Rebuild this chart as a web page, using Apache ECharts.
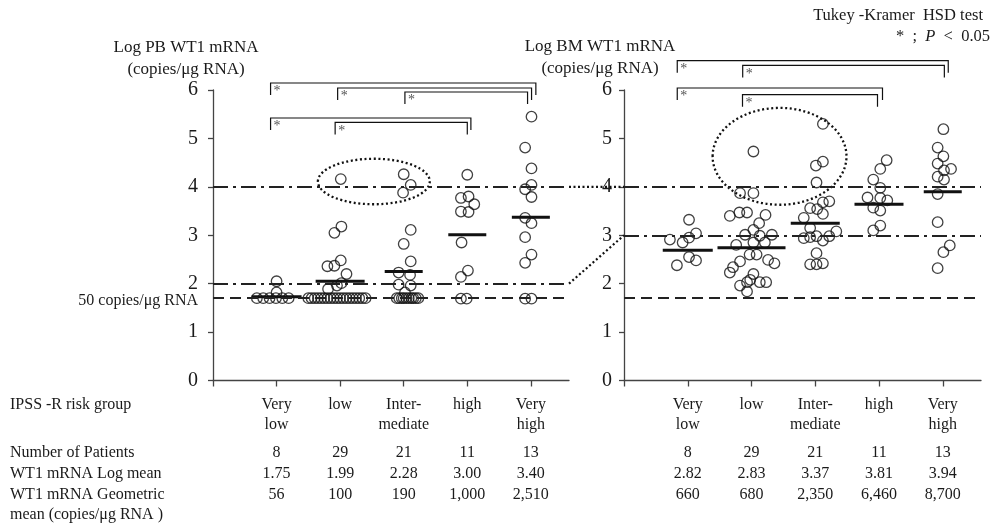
<!DOCTYPE html>
<html>
<head>
<meta charset="utf-8">
<script src="https://cdn.jsdelivr.net/npm/echarts@6/dist/echarts.min.js"></script>
<style>
html,body{margin:0;padding:0;background:#fff;}
#chart{width:994px;height:528px;}
</style>
</head>
<body>
<div id="chart"></div>
<script>
// ---------------- DATA ----------------
const categories = ['Very\nlow', 'low', 'Inter-\nmediate', 'high', 'Very\nhigh'];
const nPatients = ['8', '29', '21', '11', '13'];
const pbLogMean = ['1.75', '1.99', '2.28', '3.00', '3.40'];
const pbGeoMean = ['56', '100', '190', '1,000', '2,510'];
const bmLogMean = ['2.82', '2.83', '3.37', '3.81', '3.94'];
const bmGeoMean = ['660', '680', '2,350', '6,460', '8,700'];
// mean bars as drawn
const pbMeanBar = [1.73, 2.05, 2.25, 3.01, 3.37];
const bmMeanBar = [2.69, 2.74, 3.25, 3.64, 3.90];
// reference levels
const detectionLimit = 1.699; // log10(50 copies)
const pbThresholds = [2, 4];
const bmThresholds = [3, 4];
// significant pairs (Tukey-Kramer)
const pbSigPairs = [[1, 5], [2, 5], [3, 5], [1, 4], [2, 4]];
const bmSigPairs = [[1, 5], [2, 5], [1, 4], [2, 4]];
// dotted ellipses [cx, cy, rx, ry] in axis units
const pbEllipse = [2.53, 4.11, 0.88, 0.47];
const bmEllipse = [2.44, 4.63, 1.05, 1.0];
// connectors between panels [PB level, BM level]
const connectors = [[4, 4], [2, 3]];

// PB points [x (group + jitter), log value]
const pbVeryLow = [[0.69,1.70],[0.79,1.70],[0.89,1.70],[0.99,1.70],[1.09,1.70],[1.19,1.70],[1.00,1.82],[1.00,2.05]];
const pbLow = [[2.01,4.16],[2.02,3.18],[1.91,3.05],[2.01,2.48],[1.80,2.36],[1.91,2.37],[2.10,2.20],[1.81,1.89],[1.95,1.96],[2.02,2.01],
  [1.50,1.70],[1.55,1.70],[1.60,1.70],[1.65,1.70],[1.70,1.70],[1.75,1.70],[1.80,1.70],[1.85,1.70],[1.90,1.70],[1.95,1.70],
  [2.00,1.70],[2.05,1.70],[2.10,1.70],[2.15,1.70],[2.20,1.70],[2.25,1.70],[2.30,1.70],[2.35,1.70],[2.40,1.70]];
const pbInter = [[3.00,4.26],[3.11,4.04],[2.99,3.88],[3.11,3.11],[3.00,2.82],[3.11,2.46],[2.92,2.23],[3.10,2.18],[2.92,1.98],[3.11,1.96],[3.02,1.82],
  [2.89,1.70],[2.93,1.70],[2.97,1.70],[3.00,1.70],[3.04,1.70],[3.08,1.70],[3.12,1.70],[3.15,1.70],[3.19,1.70],[3.23,1.70]];
const pbHigh = [[4.00,4.25],[3.90,3.77],[4.02,3.80],[4.11,3.64],[3.90,3.49],[4.02,3.48],[3.91,2.85],[4.01,2.27],[3.90,2.14],[3.90,1.69],[3.99,1.69]];
const pbVeryHigh = [[5.01,5.45],[4.91,4.81],[5.01,4.38],[5.01,4.04],[4.91,3.95],[5.01,3.79],[4.91,3.36],[5.01,3.25],[4.91,2.96],[5.01,2.60],[4.91,2.43],[4.91,1.69],[5.01,1.69]];

// BM points
const bmVeryLow = [[1.02,3.32],[1.13,3.04],[1.02,2.95],[0.72,2.91],[0.92,2.85],[1.02,2.55],[1.13,2.48],[0.83,2.38]];
const bmLow = [[2.03,4.73],[1.82,3.87],[2.03,3.87],[1.66,3.40],[1.81,3.47],[1.93,3.47],[2.22,3.42],[2.12,3.25],[2.03,3.11],[1.90,3.01],
  [2.32,3.01],[2.13,2.99],[2.03,2.85],[2.21,2.85],[1.76,2.80],[1.97,2.60],[2.08,2.60],[1.82,2.46],[2.26,2.49],[2.36,2.42],
  [1.71,2.34],[1.66,2.23],[2.03,2.20],[1.98,2.08],[1.93,2.03],[2.13,2.03],[2.23,2.03],[1.82,1.96],[1.93,1.84]];
const bmInter = [[3.12,5.30],[3.12,4.52],[3.01,4.44],[3.02,4.09],[3.22,3.70],[3.12,3.68],[2.92,3.56],[3.03,3.54],[3.12,3.44],[2.82,3.36],
  [2.92,3.15],[3.33,3.08],[3.02,2.98],[3.22,2.98],[2.92,2.96],[2.82,2.94],[3.12,2.89],[3.02,2.63],[3.12,2.42],[3.02,2.40],[2.92,2.40]];
const bmHigh = [[4.12,4.55],[4.02,4.37],[3.91,4.15],[4.02,3.98],[3.82,3.78],[4.02,3.77],[4.13,3.72],[3.91,3.57],[4.02,3.51],[4.02,3.20],[3.91,3.10]];
const bmVeryHigh = [[5.01,5.19],[4.92,4.81],[5.01,4.63],[4.92,4.48],[5.02,4.34],[5.13,4.37],[4.92,4.21],[5.02,4.15],[4.92,3.85],[4.92,3.27],[5.11,2.79],[5.01,2.65],[4.92,2.32]];

// ---------------- STYLE / LAYOUT ----------------
const SERIF = "'Liberation Serif', 'Times New Roman', serif";
const INK = '#1a1a1a';
const AX = '#444';
const pbBarWidth = [50, 49, 38, 38, 38];
const bmBarWidth = [50, 68, 49, 49, 38];
const pbBracketLayout = [{dy:-7, dl:-6, dr:5}, {dy:-2, dl:-2.5, dr:0.7}, {dy:2, dl:1.2, dr:-3.3}, {dy:28, dl:-6, dr:3.6}, {dy:32.4, dl:-5, dr:0}];
const bmBracketLayout = [{dy:-29.3, dl:-10.5, dr:5.5}, {dy:-24.6, dl:-8.8, dr:1.6}, {dy:-2, dl:-10.5, dr:3.5}, {dy:4.7, dl:-9, dr:-1.5}];
const DASHDOT = [15, 5, 3, 5];
const DASH = [11, 6];

const chart = echarts.init(document.getElementById('chart'), null, {renderer: 'canvas'});

function mainX(gi) {
  return {
    type: 'value', gridIndex: gi, min: 0, max: 5.6, interval: 1,
    axisLine: {show: true, onZero: false, lineStyle: {color: AX, width: 1.3}},
    axisTick: {show: true, length: 6, lineStyle: {color: AX, width: 1.3}, customValues: [0, 1, 2, 3, 4, 5]},
    splitLine: {show: false},
    axisLabel: {customValues: [1, 2, 3, 4, 5], formatter: v => categories[v - 1] || '',
      fontSize: 16, lineHeight: 20, margin: 14.5, color: INK, fontFamily: SERIF}
  };
}
function rowX(gi, arr, offset) {
  return {
    type: 'value', gridIndex: gi, min: 0, max: 5.6, interval: 1, position: 'bottom', offset: offset,
    axisLine: {show: false}, axisTick: {show: false}, splitLine: {show: false},
    axisLabel: {customValues: [1, 2, 3, 4, 5], formatter: v => arr[v - 1] || '',
      fontSize: 16, lineHeight: 20, margin: 7.5, color: INK, fontFamily: SERIF}
  };
}
function yAx(gi, margin) {
  return {
    type: 'value', gridIndex: gi, min: 0, max: 6, interval: 1,
    axisLine: {show: true, onZero: false, lineStyle: {color: AX, width: 1.3}},
    axisTick: {show: true, length: 5, lineStyle: {color: AX, width: 1.3}},
    splitLine: {show: false},
    axisLabel: {fontSize: 20, margin: margin, color: INK, fontFamily: SERIF}
  };
}
function scatter(gi, groups, thresholds) {
  const data = [].concat(...groups);
  const ml = [{yAxis: detectionLimit, lineStyle: {type: DASH}}]
    .concat(thresholds.map(t => ({yAxis: t, lineStyle: {type: DASHDOT}})));
  return {
    type: 'scatter', xAxisIndex: gi, yAxisIndex: gi, data: data,
    symbol: 'circle', symbolSize: 10.5, z: 3,
    itemStyle: {color: 'rgba(0,0,0,0)', borderColor: '#111', borderWidth: 1.3},
    markLine: {silent: true, symbol: ['none', 'none'], label: {show: false}, animation: false,
      lineStyle: {color: '#222', width: 2}, data: ml}
  };
}
function meanBars(gi, means, widths) {
  return {
    type: 'custom', xAxisIndex: gi, yAxisIndex: gi, z: 4,
    data: means.map((m, i) => [i + 1, m]),
    renderItem: (params, api) => {
      const c = api.coord([api.value(0), api.value(1)]);
      const w = widths[params.dataIndex];
      return {type: 'line', shape: {x1: c[0] - w / 2, y1: c[1], x2: c[0] + w / 2, y2: c[1]},
        style: {stroke: '#111', lineWidth: 3}};
    }
  };
}
function brackets(gi, pairs, layout) {
  return {
    type: 'custom', xAxisIndex: gi, yAxisIndex: gi, clip: false, z: 5,
    data: pairs.map(p => [p[0], p[1]]),
    renderItem: (params, api) => {
      const s = layout[params.dataIndex];
      const a = api.coord([api.value(0), 6]);
      const b = api.coord([api.value(1), 6]);
      const y = a[1] + s.dy, xl = a[0] + s.dl, xr = b[0] + s.dr;
      return {type: 'group', children: [
        {type: 'polyline', shape: {points: [[xl, y + 12], [xl, y], [xr, y], [xr, y + 12]]},
          style: {stroke: '#111', lineWidth: 1.2, fill: null}},
        {type: 'text', x: xl + 3, y: y + 1.5,
          style: {text: '*', fill: '#555', font: '14px ' + SERIF, textAlign: 'left', textVerticalAlign: 'top', align: 'left', verticalAlign: 'top'}}
      ]};
    }
  };
}
function ellipse(gi, e) {
  return {
    type: 'custom', xAxisIndex: gi, yAxisIndex: gi, clip: false, z: 2,
    data: [e],
    renderItem: (params, api) => {
      const c = api.coord([api.value(0), api.value(1)]);
      const s = api.size([api.value(2), api.value(3)], [api.value(0), api.value(1)]);
      return {type: 'ellipse', shape: {cx: c[0], cy: c[1], rx: s[0], ry: s[1]},
        style: {fill: null, stroke: '#111', lineWidth: 2.3, lineDash: [2, 2.6]}};
    }
  };
}

const option = {
  animation: false,
  textStyle: {fontFamily: SERIF},
  grid: [
    {left: 213, top: 90, width: 356, height: 290.5},
    {left: 624, top: 90, width: 357, height: 290.5}
  ],
  xAxis: [
    mainX(0), mainX(1),
    rowX(0, nPatients, 55), rowX(0, pbLogMean, 76), rowX(0, pbGeoMean, 96.5),
    rowX(1, nPatients, 55), rowX(1, bmLogMean, 76), rowX(1, bmGeoMean, 96.5)
  ],
  yAxis: [yAx(0, 15), yAx(1, 12)],
  series: [
    scatter(0, [pbVeryLow, pbLow, pbInter, pbHigh, pbVeryHigh], pbThresholds),
    scatter(1, [bmVeryLow, bmLow, bmInter, bmHigh, bmVeryHigh], bmThresholds),
    meanBars(0, pbMeanBar, pbBarWidth),
    meanBars(1, bmMeanBar, bmBarWidth),
    brackets(0, pbSigPairs, pbBracketLayout),
    brackets(1, bmSigPairs, bmBracketLayout),
    ellipse(0, pbEllipse),
    ellipse(1, bmEllipse)
  ]
};
chart.setOption(option);

// ---------------- TEXT + CONNECTORS ----------------
function txt(x, y, text, opts) {
  return Object.assign({type: 'text', x: x, y: y, silent: true,
    style: Object.assign({text: text, fill: INK, font: '16px ' + SERIF, textAlign: 'left', textVerticalAlign: 'middle'}, opts || {})});
}
const graphics = [
  txt(983, 16, 'Tukey -Kramer  HSD test', {textAlign: 'right', font: '16.5px ' + SERIF}),
  txt(990, 37, '*  ;  {i|P}  <  0.05', {textAlign: 'right', font: '16.5px ' + SERIF,
    rich: {i: {fontStyle: 'italic', fontFamily: SERIF, fontSize: 16.5, fill: INK}}}),
  txt(186, 37, 'Log PB WT1 mRNA\n(copies/μg RNA)', {textAlign: 'center', textVerticalAlign: 'top', font: '17px ' + SERIF, lineHeight: 22}),
  txt(600, 36, 'Log BM WT1 mRNA\n(copies/μg RNA)', {textAlign: 'center', textVerticalAlign: 'top', font: '17px ' + SERIF, lineHeight: 22}),
  txt(198, 301, '50 copies/μg RNA', {textAlign: 'right'}),
  txt(10, 405, 'IPSS -R risk group'),
  txt(10, 453, 'Number of Patients'),
  txt(10, 474, 'WT1 mRNA Log mean'),
  txt(10, 494.5, 'WT1 mRNA Geometric'),
  txt(10, 515, 'mean (copies/μg RNA )')
];
connectors.forEach(c => {
  const p1 = chart.convertToPixel({xAxisIndex: 0, yAxisIndex: 0}, [5.6, c[0]]);
  const p2 = chart.convertToPixel({xAxisIndex: 1, yAxisIndex: 1}, [0, c[1]]);
  graphics.push({type: 'line', silent: true, z: 10,
    shape: {x1: p1[0], y1: p1[1], x2: p2[0], y2: p2[1]},
    style: {stroke: '#111', lineWidth: 2.2, lineDash: [2, 2.5]}});
});
chart.setOption({graphic: graphics});
</script>
</body>
</html>
